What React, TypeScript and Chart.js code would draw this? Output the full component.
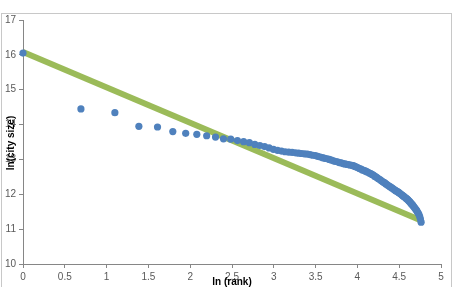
import React, { useEffect, useRef } from "react";
import { Chart, registerables } from "chart.js";

Chart.register(...registerables);

// ln(rank) for ranks 1..117
const LN_RANK: number[] = [
  0, 0.693, 1.099, 1.386, 1.609, 1.792, 1.946, 2.079, 2.197, 2.303,
  2.398, 2.485, 2.565, 2.639, 2.708, 2.773, 2.833, 2.89, 2.944, 2.996,
  3.045, 3.091, 3.135, 3.178, 3.219, 3.258, 3.296, 3.332, 3.367, 3.401,
  3.434, 3.466, 3.497, 3.526, 3.555, 3.584, 3.611, 3.638, 3.664, 3.689,
  3.714, 3.738, 3.761, 3.784, 3.807, 3.829, 3.85, 3.871, 3.892, 3.912,
  3.932, 3.951, 3.97, 3.989, 4.007, 4.025, 4.043, 4.06, 4.078, 4.094,
  4.111, 4.127, 4.143, 4.159, 4.174, 4.19, 4.205, 4.22, 4.234, 4.248,
  4.263, 4.277, 4.29, 4.304, 4.317, 4.331, 4.344, 4.357, 4.369, 4.382,
  4.394, 4.407, 4.419, 4.431, 4.443, 4.454, 4.466, 4.477, 4.489, 4.5,
  4.511, 4.522, 4.533, 4.543, 4.554, 4.564, 4.575, 4.585, 4.595, 4.605,
  4.615, 4.625, 4.635, 4.644, 4.654, 4.663, 4.673, 4.682, 4.691, 4.7,
  4.71, 4.718, 4.727, 4.736, 4.745, 4.754, 4.762,
];

// ln(city size)
const LN_SIZE: number[] = [
  16.05, 14.45, 14.34, 13.95, 13.93, 13.8, 13.75, 13.72, 13.68, 13.64,
  13.59, 13.58, 13.54, 13.51, 13.48, 13.43, 13.4, 13.37, 13.33, 13.29,
  13.26, 13.24, 13.22, 13.21, 13.2, 13.19, 13.18, 13.17, 13.16, 13.15,
  13.14, 13.12, 13.11, 13.09, 13.07, 13.05, 13.03, 13.02, 13.0, 12.98,
  12.96, 12.94, 12.93, 12.91, 12.9, 12.88, 12.87, 12.86, 12.85, 12.84,
  12.83, 12.82, 12.8, 12.78, 12.76, 12.74, 12.72, 12.7, 12.68, 12.67,
  12.65, 12.63, 12.61, 12.59, 12.57, 12.55, 12.52, 12.5, 12.48, 12.45,
  12.43, 12.41, 12.38, 12.36, 12.34, 12.32, 12.29, 12.27, 12.25, 12.23,
  12.21, 12.19, 12.17, 12.15, 12.13, 12.11, 12.09, 12.08, 12.06, 12.04,
  12.02, 12.0, 11.98, 11.96, 11.94, 11.92, 11.9, 11.88, 11.86, 11.84,
  11.81, 11.79, 11.76, 11.73, 11.71, 11.68, 11.65, 11.62, 11.59, 11.56,
  11.53, 11.49, 11.46, 11.42, 11.36, 11.29, 11.2,
];

// linear trend line end points
const TREND_X: number[] = [0, 4.762];
const TREND_Y: number[] = [16.08, 11.25];

const X_TITLE = "ln (rank)";
const Y_TITLE = "ln(city size)";

const FONT_FAMILY = "'Liberation Sans', Arial, sans-serif";

export default function App() {
  const ref = useRef<HTMLCanvasElement | null>(null);

  useEffect(() => {
    if (!ref.current) return;
    const framePlugin = {
      id: "frame",
      beforeDraw(chart: any) {
        const ctx = chart.ctx;
        ctx.save();
        ctx.fillStyle = "#ffffff";
        ctx.fillRect(0, 0, chart.width, chart.height);
        ctx.strokeStyle = "#c8c8c8";
        ctx.lineWidth = 1;
        ctx.strokeRect(1.5, 13.5, 450, 300);
        ctx.restore();
      },
      afterDraw(chart: any) {
        const ctx = chart.ctx;
        const { chartArea } = chart;
        ctx.save();
        ctx.fillStyle = "#000000";
        ctx.font = "bold 10px " + FONT_FAMILY;
        ctx.textAlign = "center";
        ctx.textBaseline = "middle";
        ctx.fillText(X_TITLE, (chartArea.left + chartArea.right) / 2, 282);
        ctx.translate(11, 143);
        ctx.rotate(-Math.PI / 2);
        ctx.fillText(Y_TITLE, 0, 0);
        ctx.restore();
      },
    };

    const chart = new Chart(ref.current, {
      type: "scatter",
      data: {
        datasets: [
          {
            label: "ln(city size)",
            data: LN_RANK.map((x, i) => ({ x, y: LN_SIZE[i] })),
            backgroundColor: "#4F81BD",
            borderColor: "#4F81BD",
            borderWidth: 0,
            pointRadius: 3.6,
            showLine: false,
            order: 0,
            clip: false as any,
          },
          {
            label: "trend",
            type: "line" as any,
            data: TREND_X.map((x, i) => ({ x, y: TREND_Y[i] })),
            borderColor: "#9BBB59",
            backgroundColor: "#9BBB59",
            borderWidth: 6,
            pointRadius: 0,
            showLine: true,
            order: 1,
            clip: false as any,
          },
        ],
      },
      options: {
        animation: false,
        responsive: false,
        maintainAspectRatio: false,
        layout: { padding: { top: 20, right: 15, left: 0, bottom: 0 } },
        plugins: {
          legend: { display: false },
          tooltip: { enabled: false },
          title: { display: false },
        },
        scales: {
          x: {
            type: "linear",
            min: 0,
            max: 5,
            ticks: {
              stepSize: 0.5,
              color: "#595959",
              font: { size: 10, family: FONT_FAMILY },
              padding: 3,
              maxRotation: 0,
              callback: (v: any) => String(Number(v)),
            },
            grid: {
              drawOnChartArea: false,
              drawTicks: true,
              tickLength: 4,
              color: "#868686",
            },
            border: { display: true, color: "#868686" },
            afterFit(scale: any) {
              scale.height = 23;
            },
          },
          y: {
            type: "linear",
            min: 10,
            max: 17,
            ticks: {
              stepSize: 1,
              color: "#595959",
              font: { size: 10, family: FONT_FAMILY },
              padding: 3,
              callback: (v: any) => String(Number(v)),
            },
            grid: {
              drawOnChartArea: false,
              drawTicks: true,
              tickLength: 4,
              color: "#868686",
            },
            border: { display: true, color: "#868686" },
            afterFit(scale: any) {
              scale.width = 23;
            },
          },
        },
      },
      plugins: [framePlugin],
    });
    return () => chart.destroy();
  }, []);

  return (
    <div style={{ position: "fixed", left: 0, top: 0, width: 456, height: 287 }}>
      <canvas ref={ref} width={456} height={287} style={{ display: "block", width: 456, height: 287 }} />
    </div>
  );
}
